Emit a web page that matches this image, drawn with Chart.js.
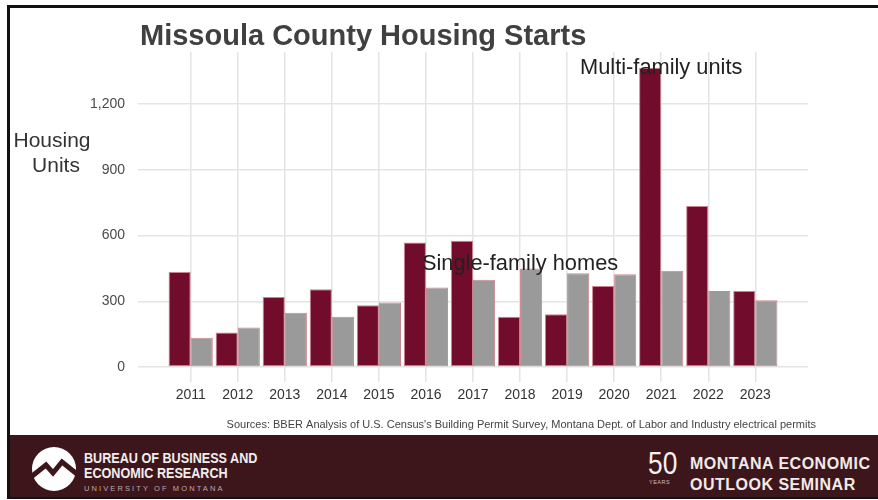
<!DOCTYPE html>
<html>
<head>
<meta charset="utf-8">
<title>Missoula County Housing Starts</title>
<script src="https://cdn.jsdelivr.net/npm/chart.js@4.4.1/dist/chart.umd.min.js"></script>
<style>
  body { margin: 0; width: 878px; height: 500px; overflow: hidden; position: relative; background: #fff;
         font-family: "Liberation Sans", Arial, sans-serif; }
  #productChart { position: absolute; left: 0; top: 0; }
  .frame-top { position: absolute; left: 7px; top: 5px; width: 871px; height: 3px; background: #111; }
  .frame-left { position: absolute; left: 7px; top: 5px; width: 3px; height: 494px; background: #111; }
  .frame-bottom { position: absolute; left: 7px; top: 497px; width: 871px; height: 2px; background: #111; }
  #footer { position: absolute; left: 10px; top: 435px; width: 868px; height: 62px; background: #3d161b; color: #fff; }
  #footer .logo { position: absolute; left: 21px; top: 11px; }
  #footer .bber { position: absolute; left: 74px; top: 16px; font-weight: bold; font-size: 14.5px; line-height: 14.5px;
                  color: #f2eeee; transform: scaleX(0.87); transform-origin: left top; white-space: nowrap; }
  #footer .um { position: absolute; left: 74px; top: 49px; font-size: 7.5px; letter-spacing: 2.1px; color: #b9a9ab; white-space: nowrap; }
  #footer .fifty { position: absolute; left: 638px; top: 13px; font-size: 31px; line-height: 31px; color: #f4f0f0;
                   transform: scaleX(0.85); transform-origin: left top; }
  #footer .years { position: absolute; left: 639px; top: 44px; font-size: 5.5px; letter-spacing: 0.5px; color: #cbbfc1; }
  #footer .seminar { position: absolute; left: 680px; top: 18px; font-weight: bold; font-size: 16px; line-height: 21px;
                     letter-spacing: 0.5px; color: #f0eaea; white-space: nowrap; }
</style>
</head>
<body>
<canvas id="productChart" width="878" height="435"></canvas>
<div id="footer">
  <svg class="logo" width="46" height="46" viewBox="0 0 46 46">
    <circle cx="23" cy="23" r="22" fill="#fff"/>
    <polyline points="0,31 15,19 22,27 31,16 46,28" fill="none" stroke="#3d161b" stroke-width="5" stroke-linejoin="miter"/>
  </svg>
  <div class="bber">BUREAU OF BUSINESS AND<br>ECONOMIC RESEARCH</div>
  <div class="um">UNIVERSITY OF MONTANA</div>
  <div class="fifty">50</div>
  <div class="years">YEARS</div>
  <div class="seminar">MONTANA ECONOMIC<br>OUTLOOK SEMINAR</div>
</div>
<div class="frame-top"></div>
<div class="frame-left"></div>
<div class="frame-bottom"></div>

<script>
// Viviendas iniciadas por año en el condado de Missoula
const years = [2011, 2012, 2013, 2014, 2015, 2016, 2017, 2018, 2019, 2020, 2021, 2022, 2023];
const multiFamily = [434, 157, 320, 355, 282, 568, 576, 230, 241, 370, 1367, 735, 347];
const singleFamily = [134, 180, 248, 229, 294, 363, 398, 450, 428, 424, 439, 347, 305];
const yTicks = [0, 300, 600, 900, 1200];

const chartTitle = 'Missoula County Housing Starts';
const yTitle = ['Housing', 'Units'];
const sourceNote = "Sources: BBER Analysis of U.S. Census's Building Permit Survey, Montana Dept. of Labor and Industry electrical permits";

const MAROON = '#720c2d';
const GREY = '#9a9a9a';
const FONT = '"Liberation Sans", Arial, sans-serif';

document.addEventListener('DOMContentLoaded', function() {
    Chart.defaults.font.family = FONT;

    // Textos fuera de los ejes: título, etiqueta del eje y, series y fuente
    const textPlugin = {
        id: 'chartText',
        afterDatasetsDraw(chart) {
            const ctx = chart.ctx;
            const area = chart.chartArea;
            const x = chart.scales.x;
            const y = chart.scales.y;
            ctx.save();

            ctx.fillStyle = '#404040';
            ctx.font = 'bold 29px ' + FONT;
            ctx.textAlign = 'left';
            ctx.textBaseline = 'alphabetic';
            ctx.fillText(chartTitle, area.left + 2, 45);

            ctx.fillStyle = '#333';
            ctx.font = '21px ' + FONT;
            ctx.textAlign = 'center';
            ctx.textBaseline = 'middle';
            ctx.fillText(yTitle[0], 52, 141);
            ctx.fillText(yTitle[1], 56, 166);

            // Etiquetas de las series sobre las barras
            const peak = multiFamily.indexOf(Math.max(...multiFamily));
            ctx.fillStyle = '#222';
            ctx.font = '21.8px ' + FONT;
            ctx.fillText('Multi-family units', x.getPixelForValue(years[peak]), y.getPixelForValue(multiFamily[peak]));
            ctx.fillText('Single-family homes', x.getPixelForValue(2018), y.getPixelForValue(472));

            ctx.fillStyle = '#444';
            ctx.font = '11px ' + FONT;
            ctx.textAlign = 'right';
            ctx.fillText(sourceNote, 816, 425);
            ctx.restore();
        }
    };

    const ctx = document.getElementById('productChart').getContext('2d');
    new Chart(ctx, {
        type: 'bar',
        data: {
            datasets: [{
                label: 'Multi-family units',
                data: years.map((yr, i) => ({ x: yr, y: multiFamily[i] })),
                backgroundColor: MAROON,
                borderColor: 'rgba(196, 110, 122, 0.85)',
                borderWidth: 1,
                borderSkipped: false
            }, {
                label: 'Single-family homes',
                data: years.map((yr, i) => ({ x: yr, y: singleFamily[i] })),
                backgroundColor: GREY,
                borderColor: 'rgba(196, 110, 122, 0.85)',
                borderWidth: 1,
                borderSkipped: false
            }]
        },
        options: {
            responsive: false,
            animation: false,
            categoryPercentage: 0.94,
            barPercentage: 1.0,
            layout: { padding: { top: 52, right: 70, bottom: 23, left: 0 } },
            plugins: {
                legend: { display: false },
                tooltip: { enabled: false }
            },
            scales: {
                x: {
                    type: 'linear',
                    offset: false,
                    min: years[0] - 1.12,
                    max: years[years.length - 1] + 1.12,
                    afterBuildTicks: scale => { scale.ticks = years.map(v => ({ value: v })); },
                    afterFit: scale => { scale.height = 30; },
                    grid: { color: '#e4e4e4', lineWidth: 1.5, drawTicks: false, offset: false },
                    border: { display: false },
                    ticks: {
                        padding: 5,
                        color: '#333',
                        font: { size: 14 },
                        callback: v => String(v)
                    }
                },
                y: {
                    min: -68.5,
                    max: 1438.5,
                    afterBuildTicks: scale => { scale.ticks = yTicks.map(v => ({ value: v })); },
                    afterFit: scale => { scale.width = 138; },
                    grid: { color: '#e4e4e4', lineWidth: 1.5, drawTicks: false },
                    border: { display: false },
                    ticks: {
                        padding: 13,
                        color: '#4a4a4a',
                        font: { size: 14 },
                        callback: v => v.toLocaleString('en-US')
                    }
                }
            }
        },
        plugins: [textPlugin]
    });
});
</script>
</body>
</html>
